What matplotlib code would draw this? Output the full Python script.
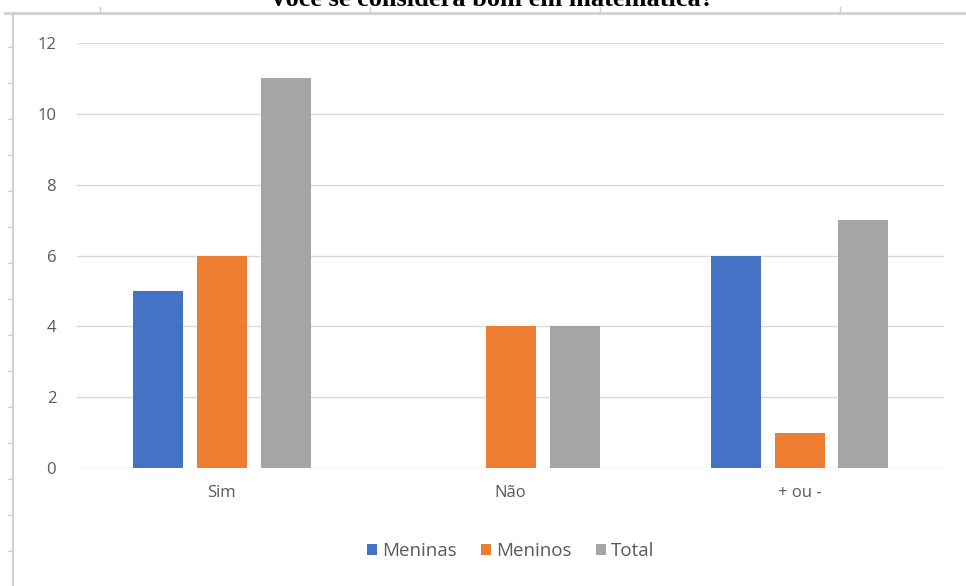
import numpy as np
import matplotlib.pyplot as plt
from matplotlib.lines import Line2D

# data
categories = ['Sim', 'Não', '+ ou -']
meninas = [5, 0, 6]
meninos = [6, 4, 1]
total = [11, 4, 7]
series_names = ['Meninas', 'Meninos', 'Total']
colors = ['#4472C4', '#ED7D31', '#A5A5A5']
y_ticks = [0, 2, 4, 6, 8, 10, 12]

plt.rcParams['font.family'] = ['Open Sans', 'DejaVu Sans']

W, H = 966, 586
fig = plt.figure(figsize=(W / 100, H / 100), dpi=100)
ax = fig.add_axes([77 / W, 1 - 468 / H, (944 - 77) / W, (468 - 43) / H])

x = np.arange(len(categories))
width = 50 / 289
step = 64 / 289
for i, (vals, name, c) in enumerate(zip([meninas, meninos, total], series_names, colors)):
    ax.bar(x + (i - 1) * step, vals, width, color=c, label=name, zorder=3)

ax.set_xlim(-0.5, 2.5)
ax.set_ylim(0, 12)
ax.set_yticks(y_ticks)
ax.set_xticks(x)
ax.set_xticklabels(categories)
ax.grid(axis='y', color='#D9D9D9', linewidth=1, zorder=0)
for s in ax.spines.values():
    s.set_visible(False)
ax.tick_params(axis='both', length=0, labelsize=12, colors='#595959')
ax.tick_params(axis='y', pad=15)
ax.tick_params(axis='x', pad=12)

ax.legend(loc='center', bbox_to_anchor=(0.5, -0.195), ncol=3, frameon=False,
          fontsize=13.5, labelcolor='#595959', handlelength=0.55, handleheight=0.55,
          handletextpad=0.25, columnspacing=1.3)

# page frame around the chart (top and left borders with little tick marks)
fc = '#D0D0D0'
fig.add_artist(Line2D([5 / W, 1], [1 - 13 / H, 1 - 13 / H], color=fc, lw=2))
fig.add_artist(Line2D([13 / W, 13 / W], [0, 1 - 13 / H], color=fc, lw=1.5))
for px in [100, 370, 600, 840]:
    fig.add_artist(Line2D([px / W, px / W], [1 - 13 / H, 1 - 7 / H], color=fc, lw=1))
for py in np.arange(47, H, 36):
    fig.add_artist(Line2D([8 / W, 13 / W], [1 - py / H, 1 - py / H], color=fc, lw=1))

# title, mostly cut off at the top edge (as in the original screenshot)
fig.text(492 / W, 1 - 6 / H, 'Você se considera bom em matemática?', ha='center',
         va='baseline', fontsize=19, family='Liberation Serif', weight='bold',
         color='black')

fig.savefig('out.png', dpi=100)
